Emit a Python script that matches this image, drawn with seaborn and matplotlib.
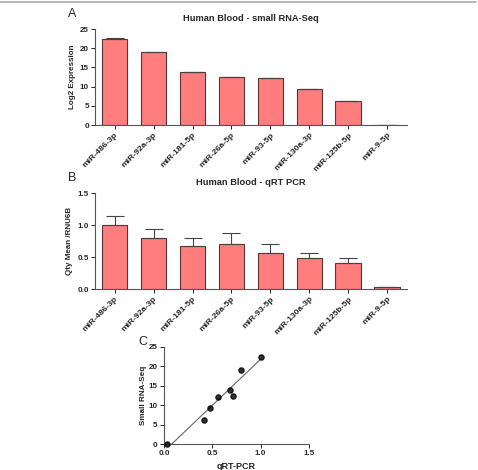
import numpy as np
import pandas as pd
import matplotlib.pyplot as plt
import seaborn as sns
from matplotlib.lines import Line2D

# Data
mirnas = ['miR-486-3p', 'miR-92a-3p', 'miR-181-5p', 'miR-26a-5p',
          'miR-93-5p', 'miR-130a-3p', 'miR-125b-5p', 'miR-9-5p']
seq_expr = [22.5, 19.0, 13.9, 12.4, 12.2, 9.3, 6.2, 0.0]
seq_err = [0.1, 0.1, 0.05, 0.05, 0.05, 0.1, 0.1, 0.0]
qpcr_mean = [1.0, 0.80, 0.68, 0.71, 0.56, 0.48, 0.41, 0.03]
qpcr_err = [0.14, 0.14, 0.12, 0.17, 0.15, 0.09, 0.07, 0.005]

df = pd.DataFrame({'mirna': mirnas, 'seq': seq_expr, 'seq_err': seq_err,
                   'qpcr': qpcr_mean, 'qpcr_err': qpcr_err})

sns.set_style('ticks')
plt.rcParams['font.family'] = ['Liberation Sans', 'DejaVu Sans']

bar_color = '#FF7D7D'
edge_color = '#5a3535'

fig = plt.figure(figsize=(4.78, 4.70), dpi=100)
axA = fig.add_axes([0.199, 0.734, 0.652, 0.204])
axB = fig.add_axes([0.199, 0.385, 0.652, 0.204])
axC = fig.add_axes([0.343, 0.055, 0.303, 0.207])


def bar_panel(ax, col, errcol, ylim, yticks, yfmt, ylabel, title, letter):
    sns.barplot(data=df, x='mirna', y=col, color=bar_color, width=0.66,
                edgecolor=edge_color, linewidth=0.8, saturation=1, ax=ax)
    x = np.arange(len(df))
    ax.errorbar(x, df[col], yerr=[np.zeros(len(df)), df[errcol]], fmt='none',
                ecolor='#444444', elinewidth=0.8, capsize=6.5, capthick=0.8)
    ax.set_xlim(-0.5, 7.5)
    ax.set_ylim(*ylim)
    ax.set_yticks(yticks)
    ax.set_yticklabels([yfmt.format(v) for v in yticks])
    ax.set_xlabel('')
    ax.set_ylabel(ylabel, fontsize=5.8, fontweight='bold', labelpad=3)
    ax.set_title(title, fontsize=6.7, fontweight='bold', pad=6)
    ax.tick_params(axis='y', labelsize=5.8, length=3, width=0.7, pad=1.5)
    ax.tick_params(axis='x', labelsize=6.1, length=3, width=0.7, pad=1.5)
    for lbl in ax.get_xticklabels():
        lbl.set_rotation(45)
        lbl.set_ha('right')
        lbl.set_rotation_mode('anchor')
        lbl.set_fontweight('bold')
    for lbl in ax.get_yticklabels():
        lbl.set_fontweight('bold')
    sns.despine(ax=ax)
    for s in ['left', 'bottom']:
        ax.spines[s].set_linewidth(0.8)
        ax.spines[s].set_color('#555555')
    ax.text(-0.087, 1.10, letter, transform=ax.transAxes, fontsize=9,
            ha='left', va='bottom')


bar_panel(axA, 'seq', 'seq_err', (0, 25), [0, 5, 10, 15, 20, 25], '{:g}',
          'Log2 Expression', 'Human Blood - small RNA-Seq', 'A')
bar_panel(axB, 'qpcr', 'qpcr_err', (0, 1.5), [0.0, 0.5, 1.0, 1.5], '{:.1f}',
          'Qty Mean /RNU6B', 'Human Blood - qRT PCR', 'B')

# Panel C: correlation
sns.regplot(data=df, x='qpcr', y='seq', ci=None, ax=axC,
            scatter_kws={'s': 14, 'color': 'black', 'clip_on': False, 'zorder': 3},
            line_kws={'color': '#666666', 'linewidth': 0.8})
axC.set_xlim(0, 1.5)
axC.set_ylim(0, 25)
axC.set_xticks([0.0, 0.5, 1.0, 1.5])
axC.set_xticklabels(['0.0', '0.5', '1.0', '1.5'])
axC.set_yticks([0, 5, 10, 15, 20, 25])
axC.set_xlabel('qRT-PCR', fontsize=6.5, fontweight='bold', labelpad=3)
axC.set_ylabel('Small RNA-Seq', fontsize=5.9, fontweight='bold', labelpad=1)
axC.tick_params(axis='both', labelsize=5.8, length=3, width=0.7, pad=1.5)
for lbl in axC.get_xticklabels() + axC.get_yticklabels():
    lbl.set_fontweight('bold')
sns.despine(ax=axC)
for s in ['left', 'bottom']:
    axC.spines[s].set_linewidth(0.8)
    axC.spines[s].set_color('#555555')
axC.text(-0.117, 1.05, 'C', transform=axC.transAxes, fontsize=9,
         ha='right', va='center')

# thin gray frame line along the top
fig.add_artist(Line2D([0.0, 0.995], [0.996, 0.996], color='#aaaaaa',
                      linewidth=1.2, transform=fig.transFigure))

fig.savefig('out.png', dpi=100)
